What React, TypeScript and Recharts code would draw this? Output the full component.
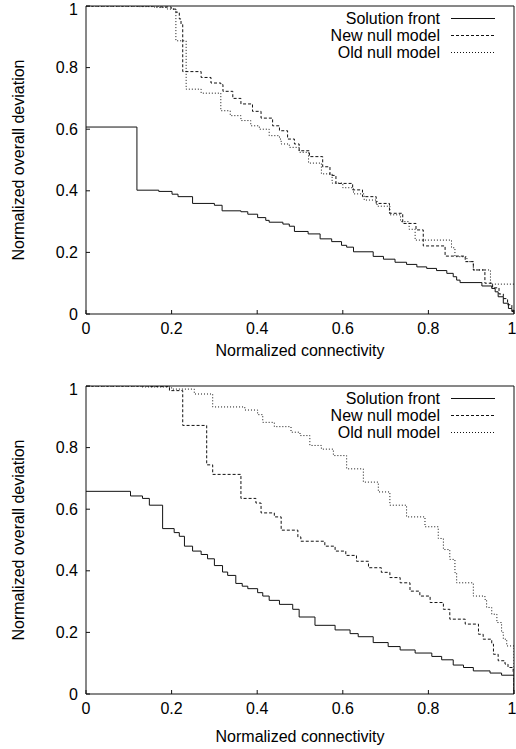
import { LineChart, Line, XAxis, YAxis, Legend } from "recharts";

type Pt = { x: number; y: number };

const ticks = [0, 0.2, 0.4, 0.6, 0.8, 1];
const tickLabels = ["0", "0.2", "0.4", "0.6", "0.8", "1"];
const seriesNames = ["Solution front", "New null model", "Old null model"];

// upper panel, [connectivity, deviation] step points
const topFront = [
  [0, 0.607], [0.119, 0.402], [0.17, 0.398], [0.201, 0.389], [0.215, 0.381], [0.249, 0.359],
  [0.3, 0.353], [0.318, 0.335], [0.362, 0.332], [0.378, 0.324], [0.401, 0.313], [0.42, 0.304],
  [0.428, 0.298], [0.46, 0.292], [0.475, 0.285], [0.487, 0.268], [0.519, 0.26], [0.547, 0.244],
  [0.574, 0.235], [0.597, 0.223], [0.609, 0.217], [0.625, 0.202], [0.671, 0.187], [0.695, 0.178],
  [0.722, 0.168], [0.749, 0.161], [0.773, 0.153], [0.796, 0.148], [0.819, 0.141], [0.843, 0.132],
  [0.858, 0.121], [0.866, 0.11], [0.874, 0.102], [0.925, 0.091], [0.948, 0.083], [0.956, 0.072],
  [0.963, 0.056], [0.975, 0.035], [0.987, 0.018], [0.995, 0.008], [1, 0.003],
];
const topNewNull = [
  [0, 1], [0.17, 0.997], [0.199, 0.99], [0.21, 0.98], [0.218, 0.958], [0.222, 0.94], [0.226, 0.787],
  [0.269, 0.768], [0.292, 0.75], [0.315, 0.745], [0.32, 0.723], [0.343, 0.7], [0.362, 0.682],
  [0.389, 0.658], [0.409, 0.636], [0.436, 0.611], [0.452, 0.595], [0.471, 0.568], [0.487, 0.552],
  [0.498, 0.53], [0.522, 0.511], [0.553, 0.478], [0.57, 0.45], [0.584, 0.424], [0.623, 0.403],
  [0.646, 0.381], [0.678, 0.359], [0.709, 0.327], [0.74, 0.294], [0.771, 0.273], [0.788, 0.221],
  [0.839, 0.188], [0.886, 0.17], [0.905, 0.143], [0.932, 0.1], [0.95, 0.085], [0.965, 0.065],
  [0.975, 0.05], [0.985, 0.03], [0.995, 0.012], [1, 0.005],
];
const topOldNull = [
  [0, 1], [0.125, 0.998], [0.16, 0.995], [0.19, 0.99], [0.21, 0.887], [0.234, 0.73], [0.269, 0.717],
  [0.315, 0.66], [0.337, 0.644], [0.362, 0.628], [0.385, 0.611], [0.405, 0.6], [0.428, 0.579],
  [0.452, 0.568], [0.456, 0.552], [0.475, 0.541], [0.498, 0.525], [0.52, 0.49], [0.55, 0.455],
  [0.575, 0.425], [0.6, 0.41], [0.625, 0.39], [0.65, 0.37], [0.68, 0.35], [0.71, 0.322],
  [0.735, 0.3], [0.755, 0.275], [0.769, 0.24], [0.854, 0.215], [0.862, 0.186], [0.89, 0.17],
  [0.905, 0.143], [0.945, 0.097], [1, 0.097],
];

// lower panel
const bottomFront = [
  [0, 0.658], [0.104, 0.643], [0.132, 0.635], [0.148, 0.613], [0.179, 0.537], [0.206, 0.524],
  [0.218, 0.512], [0.23, 0.48], [0.249, 0.464], [0.269, 0.453], [0.284, 0.439], [0.3, 0.417],
  [0.319, 0.396], [0.331, 0.385], [0.35, 0.359], [0.365, 0.35], [0.378, 0.342], [0.401, 0.329],
  [0.413, 0.318], [0.428, 0.304], [0.452, 0.291], [0.483, 0.275], [0.498, 0.25], [0.535, 0.223],
  [0.582, 0.208], [0.617, 0.196], [0.636, 0.186], [0.671, 0.167], [0.706, 0.154], [0.734, 0.143],
  [0.769, 0.133], [0.808, 0.122], [0.831, 0.111], [0.858, 0.094], [0.882, 0.086], [0.905, 0.075],
  [0.944, 0.068], [0.971, 0.061], [1, 0],
];
const bottomNewNull = [
  [0, 1], [0.15, 0.998], [0.195, 0.985], [0.226, 0.872], [0.282, 0.744], [0.296, 0.713],
  [0.362, 0.635], [0.397, 0.62], [0.409, 0.588], [0.44, 0.575], [0.456, 0.532], [0.495, 0.51],
  [0.502, 0.496], [0.558, 0.48], [0.582, 0.464], [0.607, 0.45], [0.632, 0.431], [0.66, 0.41],
  [0.69, 0.395], [0.71, 0.378], [0.734, 0.361], [0.757, 0.334], [0.78, 0.318], [0.804, 0.297],
  [0.835, 0.275], [0.85, 0.243], [0.886, 0.227], [0.917, 0.194], [0.928, 0.178], [0.948, 0.162],
  [0.952, 0.129], [0.963, 0.108], [0.979, 0.097], [0.986, 0.086], [0.998, 0.07], [1, 0],
];
const bottomOldNull = [
  [0, 1], [0.13, 0.997], [0.2, 0.99], [0.253, 0.974], [0.296, 0.932], [0.371, 0.922],
  [0.401, 0.907], [0.413, 0.882], [0.44, 0.868], [0.479, 0.85], [0.5, 0.839], [0.523, 0.807],
  [0.55, 0.795], [0.578, 0.774], [0.609, 0.731], [0.648, 0.688], [0.683, 0.656], [0.71, 0.613],
  [0.749, 0.575], [0.792, 0.543], [0.823, 0.505], [0.835, 0.469], [0.85, 0.437], [0.862, 0.394],
  [0.866, 0.361], [0.905, 0.318], [0.932, 0.307], [0.936, 0.281], [0.948, 0.259], [0.96, 0.232],
  [0.971, 0.2], [0.975, 0.178], [0.983, 0.156], [1, 0],
];

const FONT = "'Liberation Sans', Arial, Helvetica, sans-serif";
const INK = "#111";
const dashes: Record<string, string | undefined> = {
  "Solution front": undefined,
  "New null model": "3 2",
  "Old null model": "1 2",
};

const toPts = (arr: number[][]): Pt[] => arr.map(([x, y]) => ({ x, y }));
const fmt = (v: number) => tickLabels[ticks.indexOf(v)] ?? String(v);

function KeyBox({ payload }: any) {
  // keep the plotting order, recharts sorts legend entries by name
  const items = [...(payload || [])].sort(
    (a: any, b: any) => seriesNames.indexOf(a.value) - seriesNames.indexOf(b.value)
  );
  return (
    <div style={{ fontFamily: FONT, fontSize: 16, color: "#000" }}>
      {items.map((e: any) => (
        <div key={e.value} style={{ display: "flex", alignItems: "center", height: 17, justifyContent: "flex-end" }}>
          <span style={{ lineHeight: "17px" }}>{e.value}</span>
          <svg width={44} height={17} style={{ marginLeft: 11 }}>
            <line x1={0} x2={44} y1={8.5} y2={8.5} stroke={INK} strokeWidth={1} strokeDasharray={dashes[e.value]} />
          </svg>
        </div>
      ))}
    </div>
  );
}

function Panel({ front, newNull, oldNull, height, xTitleY, yTitleShift }: any) {
  const YTitle = ({ viewBox }: any) => {
    const cy = viewBox.y + viewBox.height / 2 + yTitleShift;
    return (
      <text x={18} y={cy} transform={`rotate(-90 18 ${cy})`} textAnchor="middle" dominantBaseline="central"
        fontFamily={FONT} fontSize={16} fill="#000">
        Normalized overall deviation
      </text>
    );
  };
  const XTitle = ({ viewBox }: any) => (
    <text x={viewBox.x + viewBox.width / 2} y={viewBox.y + xTitleY} textAnchor="middle" dominantBaseline="central"
      fontFamily={FONT} fontSize={16} fill="#000">
      Normalized connectivity
    </text>
  );
  const tickStyle = { fontFamily: FONT, fontSize: 16, fill: "#000" };
  const series = [front, newNull, oldNull];
  return (
    <LineChart width={516} height={height} margin={{ top: 5, right: 1, bottom: 0, left: 0 }}>
      <XAxis dataKey="x" type="number" domain={[0, 1]} ticks={ticks} tickFormatter={fmt} height={height - 320 + 6}
        allowDataOverflow stroke={INK} tickSize={-4} tickMargin={13} tick={tickStyle} label={<XTitle />} />
      <XAxis xAxisId="top" orientation="top" dataKey="x" type="number" domain={[0, 1]} ticks={ticks}
        tickFormatter={() => ""} height={1} stroke={INK} tickSize={-4} />
      <YAxis type="number" domain={[0, 1]} ticks={ticks} tickFormatter={fmt} width={86} allowDataOverflow
        stroke={INK} tickSize={-4} tickMargin={12} tick={tickStyle} label={<YTitle />} />
      <YAxis yAxisId="right" orientation="right" type="number" domain={[0, 1]} ticks={ticks}
        tickFormatter={() => ""} width={1} stroke={INK} tickSize={-4} />
      <Legend layout="vertical" align="center" verticalAlign="middle" content={<KeyBox />}
        wrapperStyle={{ top: 10, right: 21, left: "auto", width: 240 }} />
      {series.map((s: number[][], i: number) => (
        <Line key={seriesNames[i]} name={seriesNames[i]} data={toPts(s)} dataKey="y" type="stepAfter"
          stroke={INK} strokeWidth={1} strokeDasharray={dashes[seriesNames[i]]} dot={false}
          activeDot={false} isAnimationActive={false} />
      ))}
    </LineChart>
  );
}

export default function App() {
  return (
    <div style={{ position: "absolute", left: 0, top: 0, width: 516, height: 749, background: "#fff" }}>
      <div style={{ position: "absolute", left: 0, top: 0 }}>
        <Panel front={topFront} newNull={topNewNull} oldNull={topOldNull} height={370} xTitleY={36} yTitleShift={0} />
      </div>
      <div style={{ position: "absolute", left: 0, top: 380 }}>
        <Panel front={bottomFront} newNull={bottomNewNull} oldNull={bottomOldNull} height={369} xTitleY={42} yTitleShift={0} />
      </div>
    </div>
  );
}
